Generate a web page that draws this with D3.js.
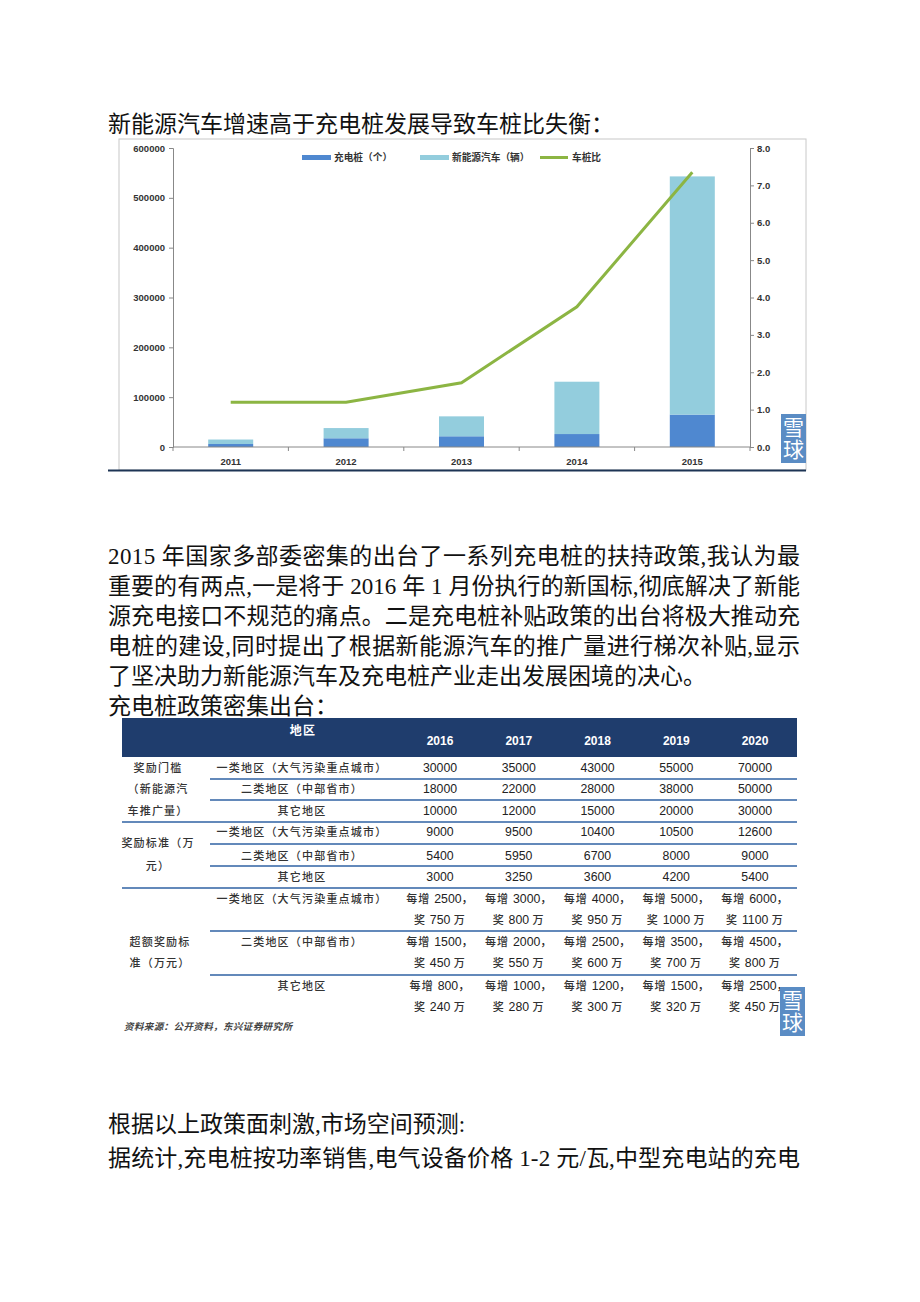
<!DOCTYPE html>
<html>
<head>
<meta charset="utf-8">
<script src="https://cdn.jsdelivr.net/npm/d3@7"></script>
<style>
  body { margin: 0; background: #fff; }
  .body { font-family: "Liberation Serif", "Noto Sans CJK SC", serif; }
  .ax text { font-family: "Liberation Sans", Arial, sans-serif; font-weight: bold; font-size: 9.5px; fill: #333; }
  .tb { font-family: "Liberation Sans", "Noto Sans CJK SC", sans-serif; font-size: 12.3px; fill: #222; }
  .cj { font-family: "Noto Sans CJK SC", sans-serif; font-size: 11px; font-weight: 500; fill: #333; letter-spacing: 1.2px; }
</style>
</head>
<body>
<div class="page"></div>
<script>
// chart data
const years = ['2011', '2012', '2013', '2014', '2015'];
const piles = [6000, 17500, 21500, 26000, 65000];       // 充电桩（个）
const evs = [9000, 20500, 40000, 105000, 478000];       // 新能源汽车（辆）, stacked on piles
const ratio = [1.2, 1.2, 1.72, 3.75, 7.35];             // 车桩比
const leftTicks = [0, 100000, 200000, 300000, 400000, 500000, 600000];
const rightTicks = [0, 1, 2, 3, 4, 5, 6, 7, 8];
const legendNames = ['充电桩（个）', '新能源汽车（辆）', '车桩比'];

// table data
const tableYears = ['2016', '2017', '2018', '2019', '2020'];
const regions = ['一类地区（大气污染重点城市）', '二类地区（中部省市）', '其它地区'];
const threshold = [[30000, 35000, 43000, 55000, 70000], [18000, 22000, 28000, 38000, 50000], [10000, 12000, 15000, 20000, 30000]];
const standard = [[9000, 9500, 10400, 10500, 12600], [5400, 5950, 6700, 8000, 9000], [3000, 3250, 3600, 4200, 5400]];
const extraStep = [[2500, 3000, 4000, 5000, 6000], [1500, 2000, 2500, 3500, 4500], [800, 1000, 1200, 1500, 2500]];
const extraAward = [[750, 800, 950, 1000, 1100], [450, 550, 600, 700, 800], [240, 280, 300, 320, 450]];

const title = '新能源汽车增速高于充电桩发展导致车桩比失衡：';
const para = [
  '2015 年国家多部委密集的出台了一系列充电桩的扶持政策,我认为最',
  '重要的有两点,一是将于 2016 年 1 月份执行的新国标,彻底解决了新能',
  '源充电接口不规范的痛点。二是充电桩补贴政策的出台将极大推动充',
  '电桩的建设,同时提出了根据新能源汽车的推广量进行梯次补贴,显示',
  '了坚决助力新能源汽车及充电桩产业走出发展困境的决心。',
  '充电桩政策密集出台：'
];
const tail = ['根据以上政策面刺激,市场空间预测:', '据统计,充电桩按功率销售,电气设备价格 1-2 元/瓦,中型充电站的充电'];

const W = 920, H = 1302;
const svg = d3.select('.page').append('svg').attr('width', W).attr('height', H);

// body text
function line(txt, x, y, full) {
  const t = svg.append('text').attr('class', 'body').attr('x', x).attr('y', y + 8)
    .attr('font-size', 23).attr('fill', '#111').text(txt);
  if (full) t.attr('textLength', 692).attr('lengthAdjust', 'spacing');
}
line(title, 108, 124, false);
para.forEach((p, i) => line(p, 108, 556 + i * 30, i < 4));
tail.forEach((p, i) => line(p, 108, 1124 + i * 34, i === 1));

// ---- chart ----
svg.append('rect').attr('x', 119).attr('y', 139).attr('width', 687).attr('height', 331)
  .attr('fill', '#fff').attr('stroke', '#c8c8c8');
svg.append('line').attr('x1', 108).attr('x2', 806).attr('y1', 470.5).attr('y2', 470.5)
  .attr('stroke', '#1d3455').attr('stroke-width', 2);

const x = d3.scaleBand().domain(years).range([173, 750]).paddingInner(0.61).paddingOuter(0.305);
const y = d3.scaleLinear().domain([0, 600000]).range([447, 148]);
const y2 = d3.scaleLinear().domain([0, 8]).range([447, 148]);

const gl = svg.append('g').attr('class', 'ax').attr('transform', 'translate(173,0)')
  .call(d3.axisLeft(y).tickValues(leftTicks).tickFormat(d3.format('d')).tickSize(4).tickPadding(4));
const gr = svg.append('g').attr('class', 'ax').attr('transform', 'translate(750,0)')
  .call(d3.axisRight(y2).tickValues(rightTicks).tickFormat(d3.format('.1f')).tickSize(4).tickPadding(3));
[gl, gr].forEach(g => { g.selectAll('path,line').attr('stroke', '#888'); });

// bars
const bars = svg.append('g');
bars.selectAll('.p').data(years).enter().append('rect')
  .attr('x', d => x(d)).attr('width', x.bandwidth())
  .attr('y', (d, i) => y(piles[i])).attr('height', (d, i) => y(0) - y(piles[i]))
  .attr('fill', '#4f88d0');
bars.selectAll('.e').data(years).enter().append('rect')
  .attr('x', d => x(d)).attr('width', x.bandwidth())
  .attr('y', (d, i) => y(piles[i] + evs[i])).attr('height', (d, i) => y(piles[i]) - y(piles[i] + evs[i]))
  .attr('fill', '#93cddd');

// x axis
const gx = svg.append('g').attr('class', 'ax').attr('transform', 'translate(0,447)');
gx.append('line').attr('x1', 173).attr('x2', 750).attr('stroke', '#888');
gx.selectAll('.tk').data(d3.range(years.length + 1)).enter().append('line')
  .attr('x1', i => 173 + i * x.step()).attr('x2', i => 173 + i * x.step())
  .attr('y1', 0).attr('y2', 4).attr('stroke', '#888');
gx.selectAll('.lb').data(years).enter().append('text')
  .attr('x', d => x(d) + x.bandwidth() / 2).attr('y', 18).attr('text-anchor', 'middle').text(d => d);

// ratio line
svg.append('path').datum(ratio)
  .attr('d', d3.line().x((d, i) => x(years[i]) + x.bandwidth() / 2).y(d => y2(d)))
  .attr('fill', 'none').attr('stroke', '#8cb543').attr('stroke-width', 3);

// legend
const lg = svg.append('g');
const lx = [302, 420, 540];
lg.append('rect').attr('x', lx[0]).attr('y', 155).attr('width', 29).attr('height', 5).attr('fill', '#4f88d0');
lg.append('rect').attr('x', lx[1]).attr('y', 155).attr('width', 29).attr('height', 5).attr('fill', '#93cddd');
lg.append('line').attr('x1', lx[2]).attr('x2', lx[2] + 28).attr('y1', 157.5).attr('y2', 157.5).attr('stroke', '#8cb543').attr('stroke-width', 3);
legendNames.forEach((n, i) => lg.append('text').attr('x', lx[i] + 32).attr('y', 161)
  .style('font-family', '"Noto Sans CJK SC"').style('font-size', '9.7px').style('font-weight', 'bold')
  .attr('fill', '#333').text(n));

// watermark: one vertical text
function mark(x0, y0) {
  const g = svg.append('g');
  g.append('rect').attr('x', x0).attr('y', y0).attr('width', 25).attr('height', 49).attr('fill', '#5a8cc4');
  g.append('text').attr('x', x0 + 12.5).attr('y', y0 + 3).attr('fill', '#fff')
    .style('writing-mode', 'vertical-rl').style('letter-spacing', '1px')
    .style('font-size', '21px').style('font-family', '"Noto Sans CJK SC"').text('雪球');
}
mark(781, 414);

// ---- table ----
const cx = d3.scalePoint().domain(tableYears).range([440, 755]);
const t = svg.append('g');
t.append('rect').attr('x', 122).attr('y', 718).attr('width', 675).attr('height', 39).attr('fill', '#1f3d6d');
t.append('text').attr('x', 303).attr('y', 735).attr('text-anchor', 'middle').attr('class', 'cj')
  .style('fill', '#fff').style('font-weight', 'bold').style('font-size', '12px').text('地区');
t.selectAll('.hy').data(tableYears).enter().append('text')
  .attr('x', d => cx(d)).attr('y', 745).attr('text-anchor', 'middle')
  .style('font-family', '"Liberation Sans", Arial, sans-serif').style('font-weight', 'bold').style('font-size', '12px')
  .attr('fill', '#fff').text(d => d);

function hline(yy, x1) {
  t.append('line').attr('x1', x1).attr('x2', 797).attr('y1', yy).attr('y2', yy)
    .attr('stroke', '#2f62a3').attr('stroke-width', 1.5);
}
function cell(txt, xx, yy, cls) {
  t.append('text').attr('x', xx).attr('y', yy + 4).attr('text-anchor', 'middle').attr('class', cls).text(txt);
}

// group 1 and 2: single-line values
[[threshold, [768, 789, 811], ['奖励门槛', '（新能源汽', '车推广量）'], [768, 789, 811], [779, 800], 822],
 [standard, [832, 856, 877], ['奖励标准（万', '元）'], [843, 866], [844, 866], 888]]
  .forEach(([vals, rows, lab, labY, seps, end]) => {
    lab.forEach((l, i) => cell(l, 158, labY[i], 'cj'));
    regions.forEach((r, i) => {
      cell(r, 302, rows[i], 'cj');
      tableYears.forEach((yr, j) => cell(vals[i][j], cx(yr), rows[i], 'tb'));
    });
    seps.forEach(s => hline(s, 210));
    hline(end, 122);
  });

// group 3: two-line values
const rows3 = [899, 942, 986];
['超额奖励标', '准（万元）'].forEach((l, i) => cell(l, 160, 942 + i * 21, 'cj'));
regions.forEach((r, i) => {
  cell(r, 302, rows3[i], 'cj');
  tableYears.forEach((yr, j) => {
    const a = t.append('text').attr('x', cx(yr)).attr('y', rows3[i] + 4).attr('text-anchor', 'middle').attr('class', 'tb');
    a.append('tspan').attr('class', 'cj').text('每增 ');
    a.append('tspan').text(extraStep[i][j] + '，');
    const b = t.append('text').attr('x', cx(yr)).attr('y', rows3[i] + 25).attr('text-anchor', 'middle').attr('class', 'tb');
    b.append('tspan').attr('class', 'cj').text('奖 ');
    b.append('tspan').text(extraAward[i][j] + ' ');
    b.append('tspan').attr('class', 'cj').text('万');
  });
});
hline(931, 210);
hline(975, 210);

t.append('text').attr('x', 124).attr('y', 1030)
  .style('font-size', '9.5px').style('font-style', 'italic').style('font-weight', 'bold').style('letter-spacing', '0.4px')
  .style('font-family', '"Noto Sans CJK SC"').attr('fill', '#444').text('资料来源：公开资料，东兴证券研究所');
mark(780, 987);
</script>
</body>
</html>
